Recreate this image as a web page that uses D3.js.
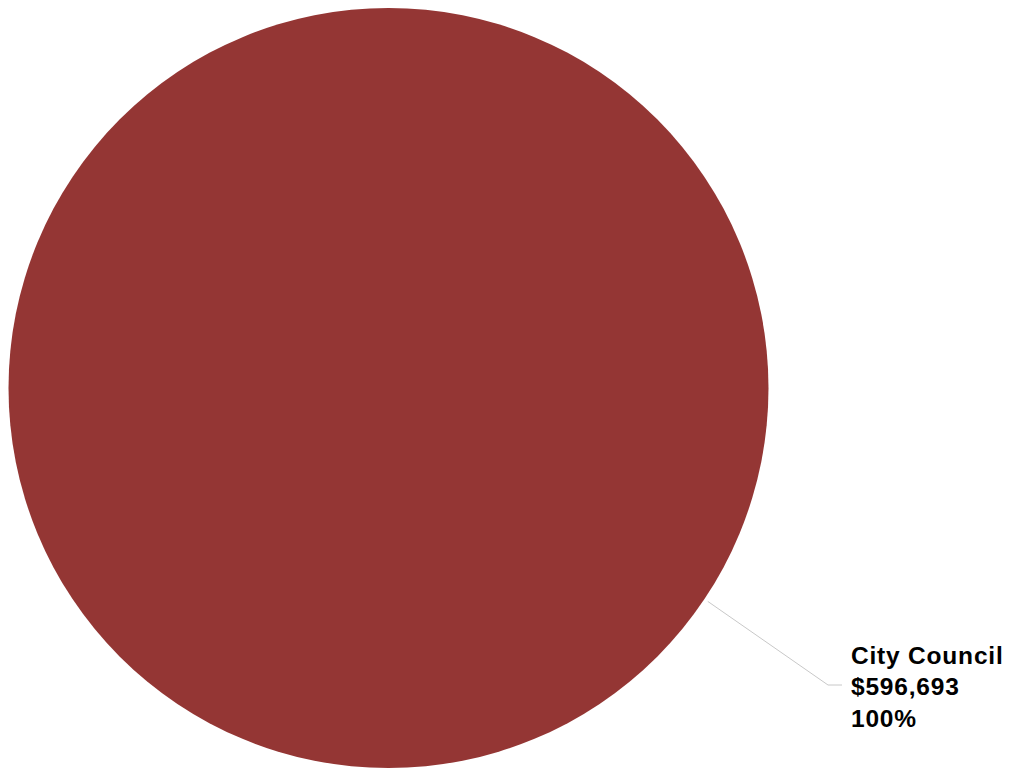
<!DOCTYPE html>
<html>
<head>
<meta charset="utf-8">
<script src="https://cdn.jsdelivr.net/npm/d3@7"></script>
<style>
  html, body { margin: 0; padding: 0; background: #fff; }
  svg { display: block; }
</style>
</head>
<body>
<svg id="chart" width="1018" height="768"></svg>
<script>
const categories = ["City Council"];
const values = [596693];
const colors = ["#943634"];

const W = 1018, H = 768;
const cx = 388.5, cy = 388, R = 380;

const svg = d3.select("#chart");
const g = svg.append("g").attr("transform", `translate(${cx},${cy})`);

const pie = d3.pie().sort(null).value(d => d.value);
const data = categories.map((c, i) => ({ name: c, value: values[i], color: colors[i] }));
const arcs = pie(data);
const total = d3.sum(values);

const arc = d3.arc().innerRadius(0).outerRadius(R);
g.selectAll("path.slice")
  .data(arcs)
  .join("path")
  .attr("class", "slice")
  .attr("d", arc)
  .attr("fill", d => d.data.color);

// label connector
const labelAngle = 2.16; // radians clockwise from 12 o'clock
const fmt = d3.format("$,");
const pct = d3.format(".0%");

arcs.forEach(d => {
  const p0 = [Math.sin(labelAngle) * (R + 4), -Math.cos(labelAngle) * (R + 4)];
  const elbow = [828 - cx, 685 - cy];
  const end = [842 - cx, 685 - cy];
  g.append("polyline")
    .attr("points", [p0, elbow, end].map(p => p.join(",")).join(" "))
    .attr("fill", "none")
    .attr("stroke", "#c8c8c8")
    .attr("stroke-width", 1);

  const t = g.append("text")
    .attr("x", 851 - cx)
    .attr("y", 663.5 - cy)
    .attr("font-family", "Arial, 'Liberation Sans', sans-serif")
    .attr("font-weight", "bold")
    .attr("font-size", "24.5px")
    .attr("letter-spacing", "0.8px")
    .attr("fill", "#000");
  const lines = [d.data.name, fmt(d.data.value), pct(d.data.value / total)];
  lines.forEach((s, i) => {
    t.append("tspan").attr("x", 851 - cx).attr("dy", i === 0 ? 0 : 31.5).text(s);
  });
});
</script>
</body>
</html>
